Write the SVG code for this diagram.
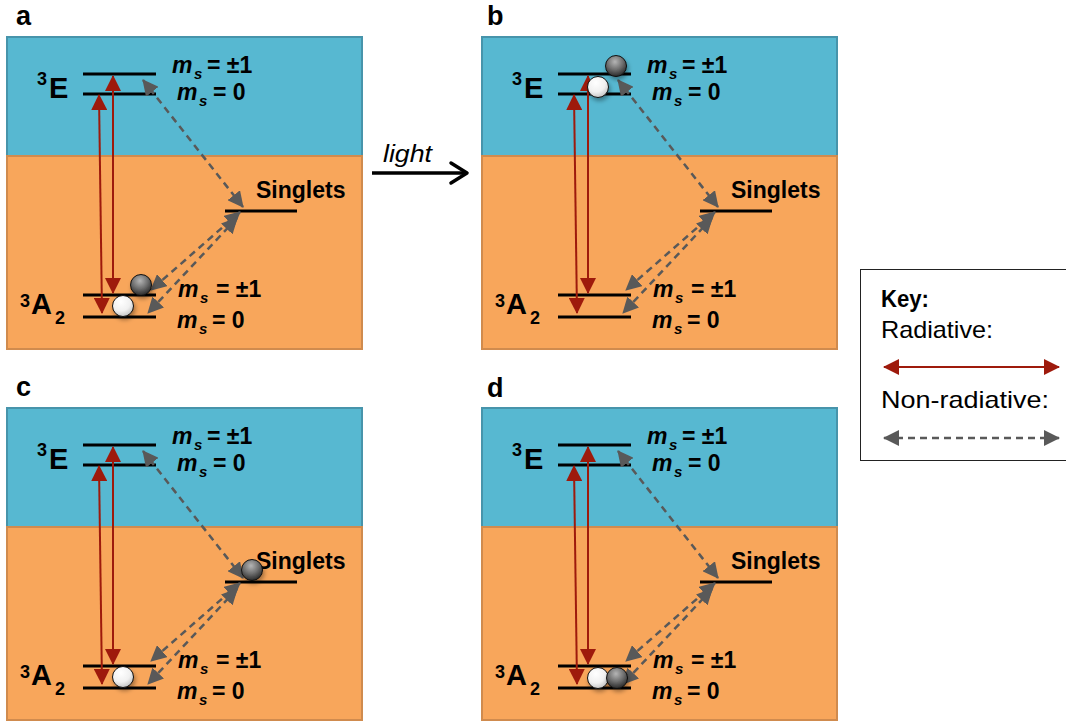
<svg xmlns="http://www.w3.org/2000/svg" width="1066" height="722" viewBox="0 0 1066 722">
<style>
.blue{fill:#57B8D1;stroke:#4794AB;stroke-width:2}
.orange{fill:#F8A65B;stroke:#D08B4E;stroke-width:2}
.lvl{stroke:#000;stroke-width:3}
.rad{stroke:#9E1A0C;stroke-width:2;fill:none;marker-start:url(#rh);marker-end:url(#rh)}
.nrad{stroke:#595959;stroke-width:2.5;stroke-dasharray:7 5;fill:none;marker-start:url(#gh);marker-end:url(#gh)}
text{font-family:"Liberation Sans",Arial,sans-serif;fill:#000}
.plab{font-size:27px;font-weight:bold}
.sym{font-size:29px;font-weight:bold}
.sup{font-size:18px;font-weight:bold}
.ms{font-size:23px;font-weight:bold}
.it{font-style:italic}
.sub{font-size:15px;font-style:italic}
.sing{font-size:23px;font-weight:bold}
.key{font-size:24px}
.dark{fill:url(#gDark);stroke:#111;stroke-width:1;filter:url(#shadow)}
.white{fill:url(#gWhite);stroke:#111;stroke-width:1;filter:url(#shadow)}
</style>
<defs>
<marker id="rh" viewBox="0 0 16 16" refX="15" refY="8" markerWidth="16" markerHeight="16" markerUnits="userSpaceOnUse" orient="auto-start-reverse"><path d="M0,0 L16,8 L0,16 z" fill="#9E1A0C"/></marker>
<marker id="gh" viewBox="0 0 16 16" refX="15" refY="8" markerWidth="16" markerHeight="16" markerUnits="userSpaceOnUse" orient="auto-start-reverse"><path d="M0,0 L16,8 L0,16 z" fill="#595959"/></marker>
<radialGradient id="gDark" cx="0.45" cy="0.3" r="0.75"><stop offset="0" stop-color="#b5b5b5"/><stop offset="0.5" stop-color="#6e6e6e"/><stop offset="1" stop-color="#1e1e1e"/></radialGradient>
<radialGradient id="gWhite" cx="0.4" cy="0.3" r="0.8"><stop offset="0" stop-color="#ffffff"/><stop offset="0.55" stop-color="#f0f0f0"/><stop offset="1" stop-color="#b8b8b8"/></radialGradient>
<filter id="shadow" x="-50%" y="-50%" width="200%" height="200%"><feDropShadow dx="1.5" dy="3" stdDeviation="2" flood-color="#000" flood-opacity="0.35"/></filter>
</defs>
<rect width="1066" height="722" fill="#fff"/>

<!-- Panel a -->
<g id="panel-a">
<text class="plab" x="16" y="25">a</text>
<g id="a-bg"><rect class="blue" x="7" y="37" width="355" height="119"/><rect class="orange" x="7" y="156" width="355" height="193"/></g>
<g id="a-3E"><line class="lvl" x1="83" y1="74" x2="156" y2="74"/><line class="lvl" x1="83" y1="94" x2="156" y2="94"/><text class="sup" x="37" y="85">3</text><text class="sym" x="49" y="98">E</text>
<text class="ms"><tspan class="it" x="172" y="73">m</tspan><tspan class="sub" x="194" y="79">s</tspan><tspan x="207" y="73">= ±1</tspan></text>
<text class="ms"><tspan class="it" x="177" y="100">m</tspan><tspan class="sub" x="199" y="106">s</tspan><tspan x="213" y="100">= 0</tspan></text></g>
<g id="a-singlets"><line class="lvl" x1="225" y1="211" x2="297" y2="211"/><text class="sing" x="256" y="198">Singlets</text></g>
<g id="a-3A2"><line class="lvl" x1="83" y1="295" x2="156" y2="295"/><line class="lvl" x1="83" y1="317" x2="156" y2="317"/><text class="sup" x="20" y="307">3</text><text class="sym" x="31" y="314">A</text><text class="sup" x="55" y="324">2</text>
<text class="ms"><tspan class="it" x="178" y="297">m</tspan><tspan class="sub" x="200" y="303">s</tspan><tspan x="216" y="297">= ±1</tspan></text>
<text class="ms"><tspan class="it" x="177" y="328">m</tspan><tspan class="sub" x="199" y="334">s</tspan><tspan x="212" y="328">= 0</tspan></text></g>
<g id="a-connectors"><line class="rad" x1="102" y1="313" x2="99" y2="95"/><line class="rad" x1="113" y1="293" x2="113" y2="76"/><line class="nrad" x1="243" y1="207" x2="143" y2="80"/><line class="nrad" x1="240" y1="212" x2="151" y2="290"/><line class="nrad" x1="237" y1="218" x2="148" y2="313"/></g>
<g id="a-electrons"><circle class="dark" cx="141" cy="285" r="10.5"/><circle class="white" cx="123" cy="306" r="10.5"/></g>
</g>

<!-- Panel b -->
<g id="panel-b" transform="translate(475,0)">
<text class="plab" x="12" y="25">b</text>
<g id="b-bg"><rect class="blue" x="7" y="37" width="355" height="119"/><rect class="orange" x="7" y="156" width="355" height="193"/></g>
<g id="b-3E"><line class="lvl" x1="83" y1="74" x2="156" y2="74"/><line class="lvl" x1="83" y1="94" x2="156" y2="94"/><text class="sup" x="37" y="85">3</text><text class="sym" x="49" y="98">E</text>
<text class="ms"><tspan class="it" x="172" y="73">m</tspan><tspan class="sub" x="194" y="79">s</tspan><tspan x="207" y="73">= ±1</tspan></text>
<text class="ms"><tspan class="it" x="177" y="100">m</tspan><tspan class="sub" x="199" y="106">s</tspan><tspan x="213" y="100">= 0</tspan></text></g>
<g id="b-singlets"><line class="lvl" x1="225" y1="211" x2="297" y2="211"/><text class="sing" x="256" y="198">Singlets</text></g>
<g id="b-3A2"><line class="lvl" x1="83" y1="295" x2="156" y2="295"/><line class="lvl" x1="83" y1="317" x2="156" y2="317"/><text class="sup" x="20" y="307">3</text><text class="sym" x="31" y="314">A</text><text class="sup" x="55" y="324">2</text>
<text class="ms"><tspan class="it" x="178" y="297">m</tspan><tspan class="sub" x="200" y="303">s</tspan><tspan x="216" y="297">= ±1</tspan></text>
<text class="ms"><tspan class="it" x="177" y="328">m</tspan><tspan class="sub" x="199" y="334">s</tspan><tspan x="212" y="328">= 0</tspan></text></g>
<g id="b-connectors"><line class="rad" x1="102" y1="313" x2="99" y2="95"/><line class="rad" x1="113" y1="293" x2="113" y2="76"/><line class="nrad" x1="243" y1="207" x2="143" y2="80"/><line class="nrad" x1="240" y1="212" x2="151" y2="290"/><line class="nrad" x1="237" y1="218" x2="148" y2="313"/></g>
<g id="b-electrons"><circle class="dark" cx="141" cy="66" r="10.5"/><circle class="white" cx="123" cy="87" r="10.5"/></g>
</g>

<!-- Panel c -->
<g id="panel-c" transform="translate(0,371)">
<text class="plab" x="16" y="25">c</text>
<g id="c-bg"><rect class="blue" x="7" y="37" width="355" height="119"/><rect class="orange" x="7" y="156" width="355" height="193"/></g>
<g id="c-3E"><line class="lvl" x1="83" y1="74" x2="156" y2="74"/><line class="lvl" x1="83" y1="94" x2="156" y2="94"/><text class="sup" x="37" y="85">3</text><text class="sym" x="49" y="98">E</text>
<text class="ms"><tspan class="it" x="172" y="73">m</tspan><tspan class="sub" x="194" y="79">s</tspan><tspan x="207" y="73">= ±1</tspan></text>
<text class="ms"><tspan class="it" x="177" y="100">m</tspan><tspan class="sub" x="199" y="106">s</tspan><tspan x="213" y="100">= 0</tspan></text></g>
<g id="c-singlets"><line class="lvl" x1="225" y1="211" x2="297" y2="211"/><text class="sing" x="256" y="198">Singlets</text></g>
<g id="c-3A2"><line class="lvl" x1="83" y1="295" x2="156" y2="295"/><line class="lvl" x1="83" y1="317" x2="156" y2="317"/><text class="sup" x="20" y="307">3</text><text class="sym" x="31" y="314">A</text><text class="sup" x="55" y="324">2</text>
<text class="ms"><tspan class="it" x="178" y="297">m</tspan><tspan class="sub" x="200" y="303">s</tspan><tspan x="216" y="297">= ±1</tspan></text>
<text class="ms"><tspan class="it" x="177" y="328">m</tspan><tspan class="sub" x="199" y="334">s</tspan><tspan x="212" y="328">= 0</tspan></text></g>
<g id="c-connectors"><line class="rad" x1="102" y1="313" x2="99" y2="95"/><line class="rad" x1="113" y1="293" x2="113" y2="76"/><line class="nrad" x1="243" y1="207" x2="143" y2="80"/><line class="nrad" x1="240" y1="212" x2="151" y2="290"/><line class="nrad" x1="237" y1="218" x2="148" y2="313"/></g>
<g id="c-electrons"><circle class="dark" cx="252" cy="199" r="10.5"/><circle class="white" cx="123" cy="306" r="10.5"/></g>
</g>

<!-- Panel d -->
<g id="panel-d" transform="translate(475,371)">
<text class="plab" x="12" y="26">d</text>
<g id="d-bg"><rect class="blue" x="7" y="37" width="355" height="119"/><rect class="orange" x="7" y="156" width="355" height="193"/></g>
<g id="d-3E"><line class="lvl" x1="83" y1="74" x2="156" y2="74"/><line class="lvl" x1="83" y1="94" x2="156" y2="94"/><text class="sup" x="37" y="85">3</text><text class="sym" x="49" y="98">E</text>
<text class="ms"><tspan class="it" x="172" y="73">m</tspan><tspan class="sub" x="194" y="79">s</tspan><tspan x="207" y="73">= ±1</tspan></text>
<text class="ms"><tspan class="it" x="177" y="100">m</tspan><tspan class="sub" x="199" y="106">s</tspan><tspan x="213" y="100">= 0</tspan></text></g>
<g id="d-singlets"><line class="lvl" x1="225" y1="211" x2="297" y2="211"/><text class="sing" x="256" y="198">Singlets</text></g>
<g id="d-3A2"><line class="lvl" x1="83" y1="295" x2="156" y2="295"/><line class="lvl" x1="83" y1="317" x2="156" y2="317"/><text class="sup" x="20" y="307">3</text><text class="sym" x="31" y="314">A</text><text class="sup" x="55" y="324">2</text>
<text class="ms"><tspan class="it" x="178" y="297">m</tspan><tspan class="sub" x="200" y="303">s</tspan><tspan x="216" y="297">= ±1</tspan></text>
<text class="ms"><tspan class="it" x="177" y="328">m</tspan><tspan class="sub" x="199" y="334">s</tspan><tspan x="212" y="328">= 0</tspan></text></g>
<g id="d-connectors"><line class="rad" x1="102" y1="313" x2="99" y2="95"/><line class="rad" x1="113" y1="293" x2="113" y2="76"/><line class="nrad" x1="243" y1="207" x2="143" y2="80"/><line class="nrad" x1="240" y1="212" x2="151" y2="290"/><line class="nrad" x1="237" y1="218" x2="148" y2="313"/></g>
<g id="d-electrons"><circle class="white" cx="123" cy="307" r="10.5"/><circle class="dark" cx="142" cy="307" r="10.5"/></g>
</g>

<!-- light arrow -->
<g id="light-arrow">
<text x="383" y="162" font-size="24" font-style="italic" textLength="49" lengthAdjust="spacingAndGlyphs">light</text>
<line x1="372" y1="173" x2="465" y2="173" stroke="#000" stroke-width="3.5"/>
<polyline points="451,163 467,173 451,183" fill="none" stroke="#000" stroke-width="3.5" stroke-linecap="round" stroke-linejoin="round"/>
</g>

<!-- key -->
<g id="key">
<rect x="860.5" y="269.5" width="215" height="191" fill="#fff" stroke="#222" stroke-width="1"/>
<text x="881" y="307" font-size="23" font-weight="bold" textLength="48" lengthAdjust="spacingAndGlyphs">Key:</text>
<text class="key" x="881" y="338" textLength="112" lengthAdjust="spacingAndGlyphs">Radiative:</text>
<line class="rad" x1="884" y1="367" x2="1059" y2="367"/>
<text class="key" x="881" y="408" textLength="168" lengthAdjust="spacingAndGlyphs">Non-radiative:</text>
<line class="nrad" x1="884" y1="438" x2="1059" y2="438"/>
</g>
</svg>
